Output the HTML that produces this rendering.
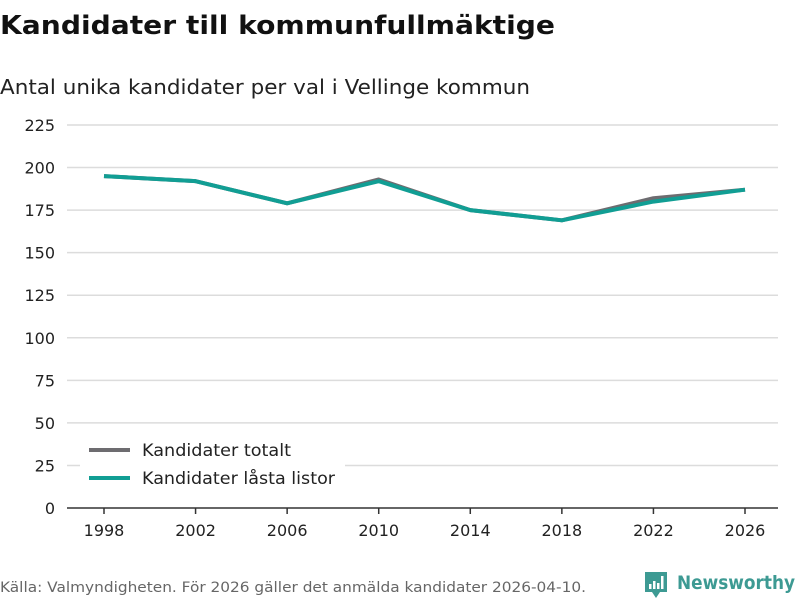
<!DOCTYPE html>
<html><head><meta charset="utf-8"><style>
body{margin:0;background:#fff;width:800px;height:600px;overflow:hidden;font-family:"DejaVu Sans","Liberation Sans",sans-serif}
</style></head><body>
<svg id="chart" width="800" height="600" xmlns="http://www.w3.org/2000/svg">
<text x="0" y="34" font-size="26" font-weight="bold" fill="#111" textLength="555" lengthAdjust="spacingAndGlyphs">Kandidater till kommunfullmäktige</text>
<text x="0" y="94" font-size="20" fill="#222" textLength="530" lengthAdjust="spacingAndGlyphs">Antal unika kandidater per val i Vellinge kommun</text>
<g id="grid"></g><g id="xaxis"></g><g id="lines"></g>
<g>
<rect x="80" y="435" width="265" height="60" fill="#fff"/>
<line x1="89" y1="450" x2="130" y2="450" stroke="#6d6c70" stroke-width="4"/>
<text x="142" y="456" font-size="17" fill="#222" textLength="149" lengthAdjust="spacingAndGlyphs">Kandidater totalt</text>
<line x1="89" y1="478" x2="130" y2="478" stroke="#119e94" stroke-width="4"/>
<text x="142" y="484" font-size="17" fill="#222" textLength="193" lengthAdjust="spacingAndGlyphs">Kandidater låsta listor</text>
</g>
<text x="0" y="592" font-size="14" fill="#666" textLength="586" lengthAdjust="spacingAndGlyphs">Källa: Valmyndigheten. För 2026 gäller det anmälda kandidater 2026-04-10.</text>
<g>
<path d="M645 572h22v20h-7l-4 6l-4-6h-7z" fill="#3d9a93"/>
<rect x="649" y="584" width="2.5" height="5" fill="#fff"/><rect x="653" y="581" width="2.5" height="8" fill="#fff"/><rect x="657" y="583" width="2.5" height="6" fill="#fff"/><rect x="661" y="576" width="2.5" height="13" fill="#fff"/>
<text x="677" y="589" font-size="19" font-weight="bold" fill="#3d9a93" textLength="118" lengthAdjust="spacingAndGlyphs">Newsworthy</text>
</g>
</svg>
<script>
const years=[1998,2002,2006,2010,2014,2018,2022,2026];
const totalt=[195,192,179,193,175,169,182,187];
const lasta=[195,192,179,192,175,169,180,187];
const yTicks=[0,25,50,75,100,125,150,175,200,225];
const NS="http://www.w3.org/2000/svg";
const x0=67,x1=778,yBase=508,yTop=125;
function xs(v){return 104+(v-1998)/(2026-1998)*(745-104);}
function ys(v){return yBase-v/225*(yBase-yTop);}
function mk(t,a,p){const e=document.createElementNS(NS,t);for(const k in a)e.setAttribute(k,a[k]);p.appendChild(e);return e;}
const grid=document.getElementById('grid');
yTicks.forEach(t=>{
 if(t>0){const l=mk('line',{x1:x0,x2:x1,y1:ys(t),y2:ys(t),stroke:'#dcdcdc','stroke-width':1.5},grid);
 
 }
 const tx=mk('text',{x:55,y:ys(t)+6,'font-size':16,fill:'#222','text-anchor':'end'},grid);tx.textContent=t;
 
 
});
const xa=document.getElementById('xaxis');
const ax=mk('line',{x1:x0,x2:x1,y1:yBase,y2:yBase,stroke:'#333','stroke-width':1.5},xa);


years.forEach(y=>{
 const tk=mk('line',{x1:xs(y),x2:xs(y),y1:yBase,y2:yBase+6,stroke:'#333','stroke-width':1.5},xa);
 
 
 const tx=mk('text',{x:xs(y),y:yBase+28,'font-size':16,fill:'#222','text-anchor':'middle'},xa);tx.textContent=y;
 
 
});
const lg=document.getElementById('lines');
[[totalt,'#6d6c70','line-totalt'],[lasta,'#119e94','line-lasta']].forEach(([d,c,n])=>{
 const p=mk('polyline',{points:d.map((v,i)=>xs(years[i])+','+ys(v)).join(' '),fill:'none',stroke:c,'stroke-width':4,'stroke-linejoin':'round'},lg);
 
 
});
</script>
</body></html>
